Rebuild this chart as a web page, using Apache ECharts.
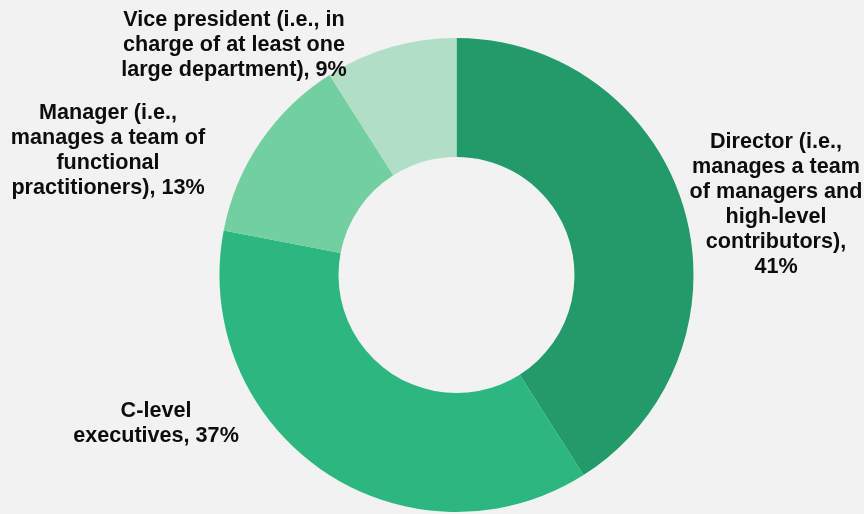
<!DOCTYPE html>
<html>
<head>
<meta charset="utf-8">
<script src="https://cdn.jsdelivr.net/npm/echarts@6/dist/echarts.min.js"></script>
<style>
  html, body { margin: 0; padding: 0; background: #f2f2f2; }
  #chart { width: 864px; height: 514px; }
</style>
</head>
<body>
<div id="chart"></div>
<script>
// Respondent seniority, clockwise from 12 o'clock
const categories = [
  'Director (i.e.,\nmanages a team\nof managers and\nhigh-level\ncontributors)',
  'C-level\nexecutives',
  'Manager (i.e.,\nmanages a team of\nfunctional\npractitioners)',
  'Vice president (i.e., in\ncharge of at least one\nlarge department)'
];
const shares = [41, 37, 13, 9];
// whether the percentage goes on its own line
const valueOnNewLine = [true, false, false, false];

const sliceColors = ['#229a6a', '#2bb77f', '#72cf9f', '#b0dfc6'];
// label block centres (px)
const labelCenters = [[776, 205], [156, 424], [108, 151], [234, 45]];

const chart = echarts.init(document.getElementById('chart'), null, { renderer: 'canvas' });

chart.setOption({
  backgroundColor: '#f2f2f2',
  animation: false,
  series: [{
    type: 'pie',
    center: [456.5, 275],
    radius: [118, 237],
    startAngle: 90,
    clockwise: true,
    avoidLabelOverlap: false,
    data: categories.map((name, i) => ({
      name: name,
      value: shares[i],
      itemStyle: { color: sliceColors[i] }
    })),
    label: {
      show: true,
      position: 'outside',
      fontFamily: '"Liberation Sans", Arial, sans-serif',
      fontWeight: 'bold',
      fontSize: 21.6,
      lineHeight: 25,
      color: '#0d0d0d',
      align: 'center',
      formatter: p => p.name + (valueOnNewLine[p.dataIndex] ? ',\n' : ', ') + p.value + '%'
    },
    labelLine: { show: false },
    labelLayout: p => ({
      x: labelCenters[p.dataIndex][0],
      y: labelCenters[p.dataIndex][1],
      align: 'center',
      verticalAlign: 'middle'
    }),
    emphasis: { disabled: true }
  }]
});
</script>
</body>
</html>
